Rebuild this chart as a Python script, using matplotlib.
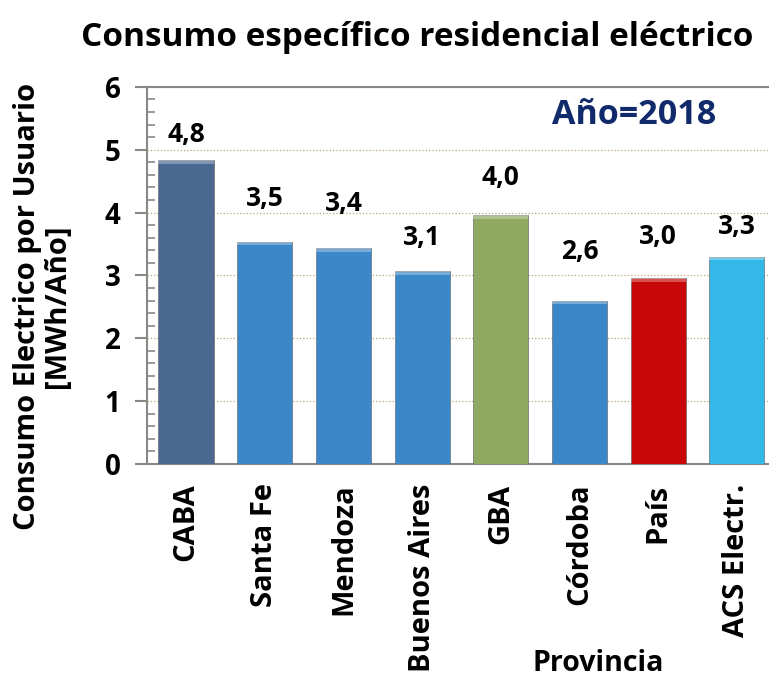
import numpy as np
import matplotlib.pyplot as plt
from matplotlib.ticker import MultipleLocator

plt.rcParams['font.family'] = ['Open Sans', 'DejaVu Sans']
plt.rcParams['font.weight'] = 'bold'

provincias = ['CABA', 'Santa Fe', 'Mendoza', 'Buenos Aires', 'GBA', 'Córdoba', 'País', 'ACS Electr.']
consumo = [4.84, 3.54, 3.44, 3.07, 3.96, 2.60, 2.96, 3.30]
colores = ['#4a6890', '#3a88c8', '#3a88c8', '#3a88c8', '#8fa862', '#3a88c8', '#c80808', '#33b8e8']
# offset of each data label above its bar (points)
offsets = [18, 31, 32, 24, 27, 35, 30, 22]

fig = plt.figure(figsize=(7.72, 6.77), dpi=100)
ax = fig.add_axes([0.1904, 0.3146, 0.8044, 0.557])

x = np.arange(len(provincias))
bars = ax.bar(x, consumo, width=0.7, color=colores, edgecolor='#5a5a5a', linewidth=0.4, zorder=3)

# lighter bevel strip on top of each bar
for xi, v, c in zip(x, consumo, colores):
    ax.bar(xi, 0.06, bottom=v - 0.06, width=0.7, color='white', alpha=0.3, linewidth=0, zorder=4)

for xi, v, off in zip(x, consumo, offsets):
    ax.annotate(f'{v:.1f}'.replace('.', ','), (xi, v), xytext=(0, off), textcoords='offset points',
                ha='center', va='center', fontsize=19, fontweight='bold')

ax.set_xlim(-0.496, 7.395)
ax.set_ylim(0, 6)
ax.yaxis.set_major_locator(MultipleLocator(1))
ax.yaxis.set_minor_locator(MultipleLocator(0.2))
ax.grid(axis='y', which='major', linestyle=':', color='#b8a878', linewidth=0.9, zorder=0)
ax.set_axisbelow(True)

ax.tick_params(axis='y', which='major', direction='out', length=9, width=1.5, color='#888888',
               labelsize=20, pad=10)
ax.tick_params(axis='y', which='minor', direction='in', length=6, width=1.2, color='#888888')
ax.tick_params(axis='x', length=0, labelsize=21, pad=14)
ax.set_xticks(x)
ax.set_xticklabels(provincias, rotation=90, fontweight='bold')
for lab in ax.get_yticklabels():
    lab.set_fontweight('bold')

for s in ['left', 'bottom', 'top']:
    ax.spines[s].set_color('#888888')
    ax.spines[s].set_linewidth(1.5)
ax.spines['right'].set_visible(False)

fig.text(0.055, 0.548, 'Consumo Electrico por Usuario\n[MWh/Año]', rotation=90, ha='center',
         va='center', fontsize=21, fontweight='bold', linespacing=1.05)
fig.text(0.775, 0.02, 'Provincia', ha='center', va='center', fontsize=20.5, fontweight='bold')

ax.text(0.785, 0.925, 'Año=2018', transform=ax.transAxes, ha='center', va='center',
        fontsize=24.5, fontweight='bold', color='#102a6b',
        bbox=dict(facecolor='white', edgecolor='none', pad=6), zorder=5)

fig.text(0.541, 0.945, 'Consumo específico residencial eléctrico', ha='center', va='center',
         fontsize=24, fontweight='bold')

fig.savefig('out.png', dpi=100)
